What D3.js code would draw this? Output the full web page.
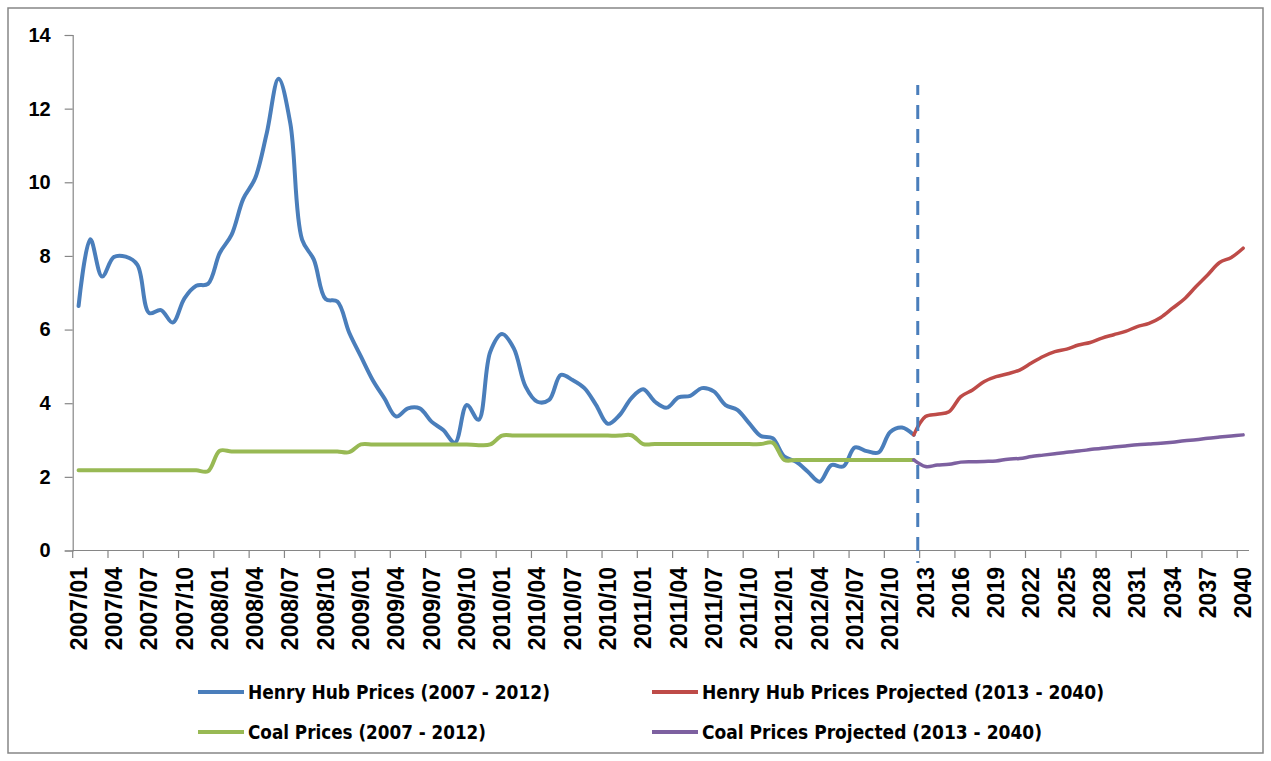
<!DOCTYPE html>
<html>
<head>
<meta charset="utf-8">
<script src="https://cdn.jsdelivr.net/npm/d3@7/dist/d3.min.js"></script>
<style>
  html, body { margin: 0; padding: 0; background: #fff; }
  svg { display: block; }
</style>
</head>
<body>
<svg id="chart" width="1271" height="761"></svg>
<script>
// ---------------- DATA ----------------
const monthCats = [
  "2007/01","2007/02","2007/03","2007/04","2007/05","2007/06","2007/07","2007/08","2007/09","2007/10","2007/11","2007/12",
  "2008/01","2008/02","2008/03","2008/04","2008/05","2008/06","2008/07","2008/08","2008/09","2008/10","2008/11","2008/12",
  "2009/01","2009/02","2009/03","2009/04","2009/05","2009/06","2009/07","2009/08","2009/09","2009/10","2009/11","2009/12",
  "2010/01","2010/02","2010/03","2010/04","2010/05","2010/06","2010/07","2010/08","2010/09","2010/10","2010/11","2010/12",
  "2011/01","2011/02","2011/03","2011/04","2011/05","2011/06","2011/07","2011/08","2011/09","2011/10","2011/11","2011/12",
  "2012/01","2012/02","2012/03","2012/04","2012/05","2012/06","2012/07","2012/08","2012/09","2012/10","2012/11","2012/12"
];
const yearCats = [
  "2013","2014","2015","2016","2017","2018","2019","2020","2021","2022","2023","2024","2025","2026",
  "2027","2028","2029","2030","2031","2032","2033","2034","2035","2036","2037","2038","2039","2040"
];
const categories = monthCats.concat(yearCats);

// Henry Hub Prices (2007 - 2012), monthly
const henryHub = [
  6.64, 8.45, 7.44, 7.97, 7.98, 7.76, 6.45, 6.53, 6.19, 6.85, 7.19, 7.24,
  8.08, 8.57, 9.55, 10.10, 11.34, 12.81, 11.60, 8.44, 7.90, 6.83, 6.76, 5.92,
  5.27, 4.63, 4.13, 3.64, 3.86, 3.86, 3.50, 3.27, 2.93, 3.95, 3.55, 5.40,
  5.88, 5.49, 4.45, 4.04, 4.09, 4.77, 4.63, 4.41, 3.95, 3.44, 3.68, 4.14,
  4.38, 4.04, 3.88, 4.16, 4.20, 4.41, 4.32, 3.95, 3.82, 3.46, 3.11, 3.05,
  2.55, 2.41, 2.14, 1.87, 2.32, 2.28, 2.80, 2.70, 2.66, 3.22, 3.34, 3.14
];
// Coal Prices (2007 - 2012), monthly
const coal = [
  2.18, 2.18, 2.18, 2.18, 2.18, 2.18, 2.18, 2.18, 2.18, 2.18, 2.18, 2.15,
  2.71, 2.69, 2.69, 2.69, 2.69, 2.69, 2.69, 2.69, 2.69, 2.69, 2.69, 2.67,
  2.88, 2.88, 2.88, 2.88, 2.88, 2.88, 2.88, 2.88, 2.88, 2.88, 2.86, 2.88,
  3.12, 3.12, 3.12, 3.12, 3.12, 3.12, 3.12, 3.12, 3.12, 3.12, 3.12, 3.13,
  2.89, 2.89, 2.89, 2.89, 2.89, 2.89, 2.89, 2.89, 2.89, 2.89, 2.89, 2.93,
  2.46, 2.46, 2.46, 2.46, 2.46, 2.46, 2.46, 2.46, 2.46, 2.46, 2.46, 2.46
];
// Projected series start at 2012/12 so that they join the historical lines
const projCats = ["2012/12"].concat(yearCats);
const henryHubProjected = [
  3.14, 3.64, 3.70, 3.77, 4.18, 4.36, 4.59, 4.72, 4.80, 4.90, 5.09, 5.27, 5.40, 5.47, 5.58,
  5.65, 5.77, 5.86, 5.95, 6.08, 6.17, 6.33, 6.58, 6.83, 7.17, 7.49, 7.82, 7.96, 8.21
];
const coalProjected = [
  2.46, 2.28, 2.32, 2.34, 2.40, 2.41, 2.42, 2.43, 2.48, 2.50, 2.55, 2.59, 2.63, 2.67, 2.70,
  2.74, 2.78, 2.81, 2.84, 2.87, 2.89, 2.91, 2.94, 2.98, 3.01, 3.05, 3.08, 3.11, 3.14
];
const yTicks = [0, 2, 4, 6, 8, 10, 12, 14];
const xTickLabels = [
  "2007/01","2007/04","2007/07","2007/10","2008/01","2008/04","2008/07","2008/10",
  "2009/01","2009/04","2009/07","2009/10","2010/01","2010/04","2010/07","2010/10",
  "2011/01","2011/04","2011/07","2011/10","2012/01","2012/04","2012/07","2012/10",
  "2013","2016","2019","2022","2025","2028","2031","2034","2037","2040"
];
const dividerCategory = "2013";

const seriesList = [
  { name: "Henry Hub Prices (2007 - 2012)", cats: monthCats, values: henryHub, color: "#4A7EBB", width: 4 },
  { name: "Coal Prices (2007 - 2012)", cats: monthCats, values: coal, color: "#98B954", width: 4 },
  { name: "Henry Hub Prices Projected (2013 - 2040)", cats: projCats, values: henryHubProjected, color: "#BE4B48", width: 3.5 },
  { name: "Coal Prices Projected (2013 - 2040)", cats: projCats, values: coalProjected, color: "#7D60A0", width: 3.5 }
];

// ---------------- LAYOUT ----------------
const svg = d3.select("#chart");
const plotL = 72.7, plotR = 1249, plotT = 35, plotB = 550.5;

svg.append("rect").attr("x", 0).attr("y", 0).attr("width", 1271).attr("height", 761).attr("fill", "#fff");
svg.append("rect").attr("x", 8).attr("y", 8).attr("width", 1255).attr("height", 745)
  .attr("fill", "none").attr("stroke", "#868686").attr("stroke-width", 1.5);

const x = d3.scaleBand().domain(categories).range([plotL, plotR]).paddingInner(0).paddingOuter(0);
const xc = c => x(c) + x.bandwidth() / 2;
const y = d3.scaleLinear().domain([0, 14]).range([plotB, plotT]);

// Y axis
const yAxis = d3.axisLeft(y).tickValues(yTicks).tickSize(8).tickPadding(14).tickFormat(d3.format("d"));
const gy = svg.append("g").attr("transform", `translate(${plotL},0)`).call(yAxis);
gy.select(".domain").attr("stroke", "#868686").attr("stroke-width", 1.2);
gy.selectAll(".tick line").attr("stroke", "#868686").attr("stroke-width", 1.2);
gy.selectAll(".tick text")
  .attr("font-family", "'Liberation Sans', Arial, sans-serif")
  .attr("font-weight", "bold").attr("font-size", 20).attr("fill", "#000");

// X axis: line + ticks at category boundaries every 3 categories
const gx = svg.append("g");
gx.append("line").attr("x1", plotL).attr("x2", plotR).attr("y1", plotB).attr("y2", plotB)
  .attr("stroke", "#868686").attr("stroke-width", 1.2);
categories.forEach((c, i) => {
  if (i % 3 === 0) {
    gx.append("line").attr("x1", x(c)).attr("x2", x(c)).attr("y1", plotB).attr("y2", plotB + 7.5)
      .attr("stroke", "#868686").attr("stroke-width", 1.2);
  }
});
gx.selectAll("text.xl").data(xTickLabels).enter().append("text")
  .attr("class", "xl")
  .attr("transform", d => `translate(${xc(d)},567) rotate(-90)`)
  .attr("text-anchor", "end").attr("dy", "0.35em")
  .attr("font-family", "'Liberation Sans', Arial, sans-serif")
  .attr("font-weight", "bold").attr("font-size", 23).attr("fill", "#000")
  .text(d => d);

// Lines
const line = d3.line().x(d => xc(d.c)).y(d => y(d.v)).curve(d3.curveCatmullRom.alpha(0.5));
seriesList.forEach(s => {
  const pts = s.cats.map((c, i) => ({ c: c, v: s.values[i] }));
  svg.append("path").datum(pts).attr("d", line)
    .attr("fill", "none").attr("stroke", s.color).attr("stroke-width", s.width)
    .attr("stroke-linejoin", "round").attr("stroke-linecap", "round");
});

// Dashed divider
const dx = x(dividerCategory) - x.bandwidth() * 0.16;
svg.append("line").attr("x1", dx).attr("x2", dx).attr("y1", 85).attr("y2", 563)
  .attr("stroke", "#4A7EBB").attr("stroke-width", 3)
  .attr("stroke-dasharray", "14,10").attr("stroke-dashoffset", 4);

// Legend
const legendItems = [
  { s: seriesList[0], lx: 198, ty: 692, tw: 302 },
  { s: seriesList[2], lx: 652, ty: 692, tw: 402 },
  { s: seriesList[1], lx: 198, ty: 732, tw: 238 },
  { s: seriesList[3], lx: 652, ty: 732, tw: 340 }
];
legendItems.forEach(it => {
  svg.append("line").attr("x1", it.lx).attr("x2", it.lx + 46).attr("y1", it.ty).attr("y2", it.ty)
    .attr("stroke", it.s.color).attr("stroke-width", 4);
  svg.append("text").attr("x", it.lx + 50).attr("y", it.ty).attr("dy", "0.36em")
    .attr("font-family", "'Liberation Sans Narrow', 'DejaVu Sans Condensed', 'Arial Narrow', sans-serif")
    .attr("font-weight", "bold").attr("font-size", 19).attr("fill", "#000")
    .attr("textLength", it.tw).attr("lengthAdjust", "spacingAndGlyphs")
    .text(it.s.name);
});
</script>
</body>
</html>
